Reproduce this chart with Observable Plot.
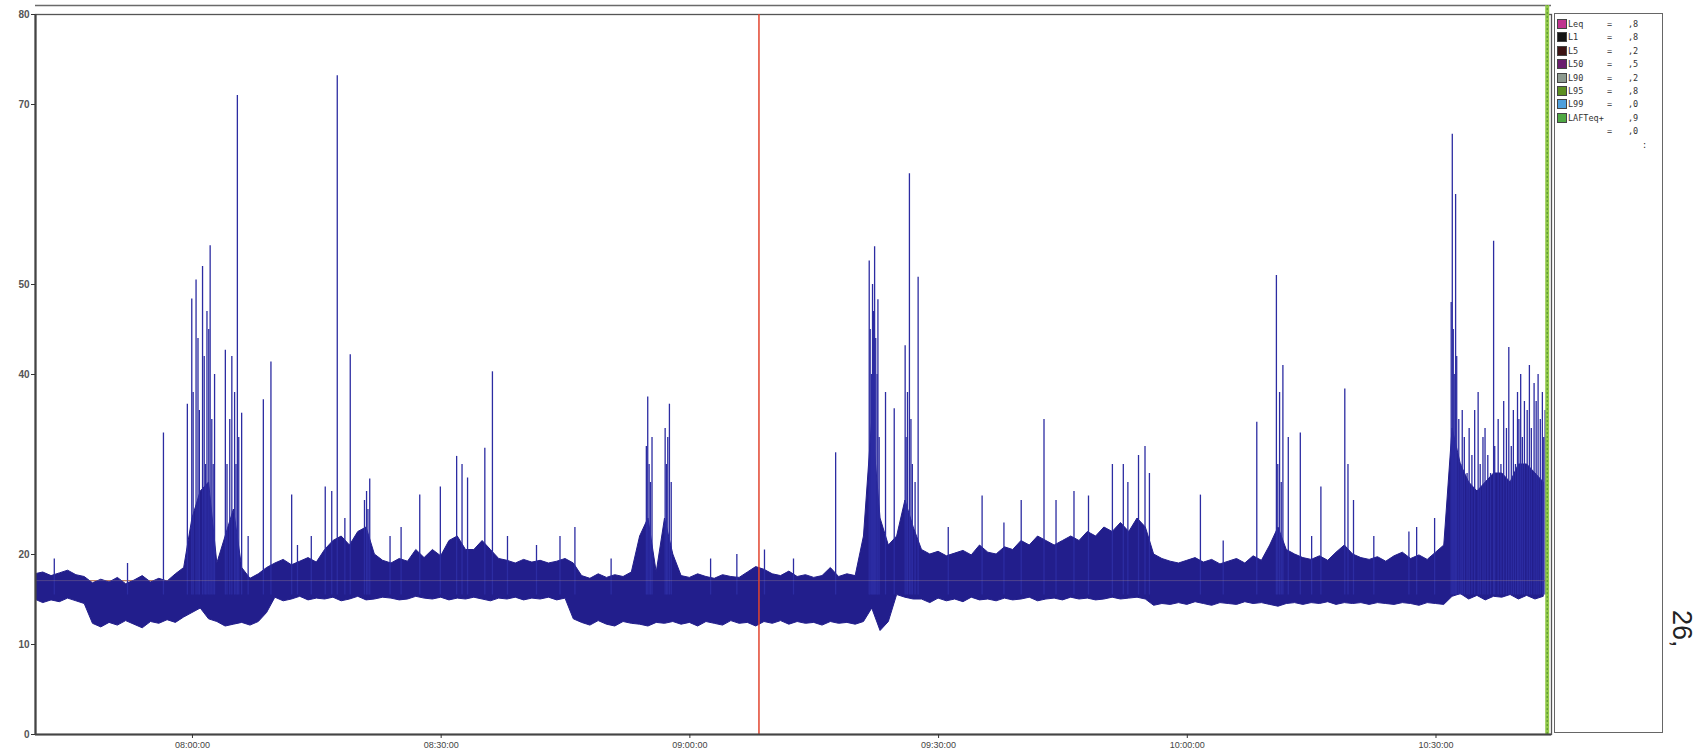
<!DOCTYPE html>
<html>
<head>
<meta charset="utf-8">
<script src="https://cdn.jsdelivr.net/npm/d3@7"></script>
<script src="https://cdn.jsdelivr.net/npm/@observablehq/plot@0.6"></script>
<style>
  html, body { margin: 0; padding: 0; background: #fff; }
  #wrap { position: relative; width: 1704px; height: 756px; overflow: hidden; }
  #legend { position: absolute; left: 1554px; top: 13px; width: 109px; height: 720px; border: 1px solid #666; box-sizing: border-box; font-family: "DejaVu Sans Mono", monospace; font-size: 8.5px; color: #333; }
  .row { position: absolute; left: 0; height: 12px; line-height: 12px; white-space: nowrap; }
  .sw { position: absolute; left: 2px; top: 1px; width: 8px; height: 8px; border: 1px solid #444; }
  .nm { position: absolute; left: 13px; }
  .eq { position: absolute; left: 52px; }
  .vl { position: absolute; left: 73px; }
  #side { position: absolute; left: 1666px; top: 610px; writing-mode: vertical-rl; font-family: "Liberation Sans", Arial, sans-serif; font-size: 27px; color: #222; }
</style>
</head>
<body>
<div id="wrap"></div>
<script>
// ---- data ----
const xDomain = ["07:41:04", "10:43:56"];
const xTicks = ["08:00:00", "08:30:00", "09:00:00", "09:30:00", "10:00:00", "10:30:00"];
const yTicks = [0, 10, 20, 40, 50, 70, 80];

// band of the continuous level, one sample per minute from 07:41
const bandStart = "07:41:00";
const bandHigh = [
  17.8, 18.0, 17.6, 17.9, 18.2, 17.7, 17.5,
  16.8, 17.2, 16.9, 17.4, 16.7, 17.1, 17.6, 16.9, 17.3, 17.0, 17.8, 18.5,
  24, 27, 28, 19, 22, 25, 18.5, 17.3, 17.8, 18.5,
  19.0, 19.4, 18.8, 19.2, 19.6, 19.1, 20.5, 21.5, 22, 21,
  22.5, 23, 20, 19.3, 19.0, 19.5, 19.2, 20.5, 19.6, 20.5,
  19.8, 21.5, 22, 20.5, 20.5, 21.5, 20.5, 19.5, 19.3, 19.0,
  19.4, 19.1, 19.3, 19.0, 19.2, 19.5,
  19,
  17.6, 17.3, 17.8, 17.4, 17.7, 17.5, 18.0, 22, 24, 18,
  24, 20, 17.6, 17.4, 17.8, 17.5, 17.3, 17.7, 17.5, 17.4,
  18.0, 18.6, 18.3, 17.8, 17.6, 18.1, 17.5, 17.7, 17.4, 17.6,
  18.5, 17.5, 17.8, 17.6, 22,
  35, 24, 21, 22, 26, 23,
  20.5, 20.0, 20.3, 19.8, 20.1, 20.4, 19.9, 21.0, 20.2, 20.0,
  20.8, 20.5, 21.5, 21, 22, 21.5, 21, 21.5, 22, 21.5,
  22.5, 22, 23, 22.5, 23.5, 22.5, 24, 23, 20, 19.5,
  19.2,
  19.0, 19.3, 19.6, 19.1, 19.4, 18.9, 19.2, 19.5, 19.0, 19.8,
  19.3, 21, 23, 20.5, 20, 19.6, 19.4, 19.8, 19.3, 20.2,
  21, 20, 19.6, 19.4, 19.7, 19.2, 19.8, 20.2, 19.5, 19.9,
  19.4, 20.2, 21,
  34, 30, 28, 27, 28, 29, 29, 28, 30, 30, 29, 28
];
const bandLow = [
  15.0, 14.6, 14.9, 14.7, 15.1, 14.8, 14.5,
  12.3, 11.9, 12.4, 12.1, 12.6, 12.2, 11.8, 12.5, 12.3, 12.7, 12.4, 13.0,
  13.5, 14.0, 12.8, 12.5, 12.0, 12.2, 12.4, 12.1, 12.5, 13.5,
  15.2, 14.8, 15.0, 15.3, 14.9, 15.1, 15.0, 15.2, 14.8, 15.0,
  15.3, 14.9, 15.0, 15.2, 15.1, 14.9, 15.0, 15.3, 15.1, 15.0,
  15.2, 14.9, 15.1, 15.0, 15.2, 15.0, 14.8, 15.1, 15.0, 15.2,
  14.9, 15.1, 15.0, 15.2, 14.9, 15.1,
  12.8,
  12.4, 12.1, 12.6, 12.2, 12.0, 12.5, 12.3, 12.2, 12.0, 12.4,
  12.3, 12.5, 12.2, 12.4, 12.0, 12.5, 12.3, 12.1, 12.6, 12.3,
  12.4, 12.0, 12.5, 12.3, 12.6, 12.2, 12.5, 12.3, 12.4, 12.1,
  12.5, 12.3, 12.4, 12.2, 12.5,
  14, 11.5, 12.5, 15.5, 15.2, 15.0,
  15.0, 14.6, 15.1, 14.8, 15.0, 14.7, 15.2, 14.9, 15.0, 14.8,
  15.1, 14.9, 15.0, 15.2, 14.8, 15.0, 15.1, 14.9, 15.2, 15.0,
  15.1, 14.9, 15.0, 15.2, 15.0, 15.1, 15.2, 15.0, 14.3, 14.5,
  14.4,
  14.6, 14.4, 14.7, 14.5, 14.3, 14.6, 14.5, 14.4, 14.7, 14.5,
  14.6, 14.4, 14.2, 14.5, 14.6, 14.4, 14.6, 14.5, 14.7, 14.4,
  14.6, 14.5, 14.6, 14.4, 14.6, 14.5, 14.4, 14.6, 14.5, 14.3,
  14.6, 14.5, 14.4,
  15.3, 15.6, 15.0, 15.4, 14.9, 15.3, 15.2, 15.5, 15.0, 15.4, 15.0, 15.3
];

// isolated peaks and bursts
const spikeTimes = [
  "07:43:20", "07:52:10", "07:56:30", "07:59:23", "07:59:55", "08:00:05", "08:00:26", "08:00:40", "08:00:50", "08:01:13",
  "08:01:25", "08:01:35", "08:01:45", "08:01:58", "08:02:08", "08:02:20", "08:02:30", "08:02:40", "08:03:58", "08:04:10",
  "08:04:30", "08:04:45", "08:05:05", "08:05:15", "08:05:25", "08:05:35", "08:05:56", "08:06:43", "08:08:33", "08:09:28",
  "08:11:58", "08:12:40", "08:14:20", "08:16:01", "08:16:48", "08:17:28", "08:18:23", "08:19:02", "08:20:45", "08:21:00",
  "08:21:10", "08:21:23", "08:23:50", "08:25:10", "08:27:25", "08:29:54", "08:31:52", "08:32:31", "08:33:11", "08:35:16",
  "08:36:11", "08:38:00", "08:41:30", "08:44:20", "08:46:08", "08:50:30", "08:54:45", "08:54:55", "08:55:05", "08:55:15",
  "08:55:26", "08:57:01", "08:57:10", "08:57:20", "08:57:32", "08:57:45", "09:02:30", "09:05:40", "09:09:00", "09:12:30",
  "09:17:35", "09:21:38", "09:21:45", "09:21:55", "09:22:02", "09:22:10", "09:22:17", "09:22:25", "09:22:35", "09:22:41",
  "09:22:50", "09:23:36", "09:24:39", "09:25:58", "09:26:05", "09:26:15", "09:26:29", "09:26:40", "09:26:50", "09:27:10",
  "09:27:32", "09:31:10", "09:35:15", "09:37:53", "09:39:58", "09:42:43", "09:44:10", "09:46:20", "09:48:05", "09:50:58",
  "09:52:17", "09:52:50", "09:54:07", "09:54:54", "09:55:26", "10:01:35", "10:04:20", "10:08:23", "10:10:45", "10:10:55",
  "10:11:08", "10:11:20", "10:11:32", "10:12:11", "10:13:38", "10:15:00", "10:16:07", "10:19:00", "10:19:23", "10:20:03",
  "10:22:30", "10:26:44", "10:27:40", "10:29:50", "10:31:50", "10:31:58", "10:32:05", "10:32:12", "10:32:22", "10:32:30",
  "10:32:45", "10:33:00", "10:33:10", "10:33:25", "10:33:45", "10:34:00", "10:34:20", "10:34:40", "10:35:05", "10:35:20",
  "10:35:40", "10:35:55", "10:36:15", "10:36:35", "10:36:57", "10:37:05", "10:37:30", "10:37:50", "10:38:10", "10:38:30",
  "10:38:47", "10:39:05", "10:39:20", "10:39:35", "10:39:50", "10:40:00", "10:40:13", "10:40:25", "10:40:40", "10:41:00",
  "10:41:16", "10:41:30", "10:41:50", "10:42:05", "10:42:19", "10:42:35", "10:42:50", "10:43:00", "10:43:10", "10:43:20"
];
const spikeValues = [
  19.5, 19, 33.5, 36.7, 48.4, 38, 50.5, 44, 36, 52,
  42, 30, 47, 45, 54.3, 35, 30, 40, 42.7, 30,
  35, 42, 38, 30, 71, 33, 35.7, 22, 37.2, 41.4,
  26.6, 21, 22, 27.5, 27, 73.2, 24, 42.2, 26, 27,
  25, 28.4, 22, 23, 26.6, 27.5, 30.9, 30, 28.5, 31.8,
  40.3, 22, 21, 22, 23, 19.5, 32, 37.5, 30, 28,
  33, 34, 30, 33, 36.7, 28, 19.5, 20, 20.5, 19.5,
  31.3, 52.6, 45, 40, 50, 47, 54.2, 44, 40, 48.3,
  33, 38, 36.2, 43.2, 33, 38, 62.3, 35, 30, 28,
  50.8, 23, 26.5, 23.5, 26, 35, 26, 27, 26.5, 30,
  30, 28, 31, 32, 29, 26.6, 21.5, 34.7, 51, 30,
  38, 28, 41, 33, 33.5, 22, 27.5, 38.4, 30, 26,
  22, 22.5, 23, 24, 48, 66.7, 45, 40, 60, 42,
  35, 30, 36, 33, 29, 34, 31, 36, 38, 30,
  33, 34, 31, 29, 54.8, 32, 35, 30, 37, 34,
  43, 32, 36, 30, 38, 35, 40, 33, 37, 36,
  41, 34, 39, 37, 40, 35, 38, 33, 36, 31
];

const refLevel = [17.1];             // thin orange percentile line
const cursorTimes = ["09:08:20"];    // red cursor
const endTimes = ["10:43:25"];       // green end marker
const topBorder = [81];

const legendNames = ["Leq", "L1", "L5", "L50", "L90", "L95", "L99", "LAFTeq+", "", ""];
const legendColors = ["#c0338f", "#151515", "#3d1414", "#6b1d6e", "#8d9a8f", "#5d8f22", "#4f9fdc", "#4fa843", null, null];
const legendValues = [",8", ",8", ",2", ",5", ",2", ",8", ",0", ",9", ",0", ":"];
const sideText = "26,";

// ---- build ----
const T = s => { const [h, m, sec = 0] = s.split(":").map(Number); return new Date(2000, 0, 1, h, m, sec); };
const t0 = T(bandStart);
const band = bandHigh.map((h, i) => ({ t: new Date(+t0 + i * 60000), hi: h, lo: bandLow[i] }));
const spikes = spikeTimes.map((s, i) => ({ t: T(s), v: spikeValues[i] }));
const xd = xDomain.map(T);
const tEnd = T(endTimes[0]);

const chart = Plot.plot({
  width: 1704,
  height: 756,
  marginLeft: 35,
  marginRight: 153,
  marginTop: 14,
  marginBottom: 22,
  style: { fontFamily: "'Liberation Sans', Arial, sans-serif", background: "transparent", color: "#333" },
  x: { type: "time", domain: xd, label: null },
  y: { domain: [0, 80], label: null },
  marks: [
    Plot.ruleY(topBorder, { stroke: "#6a6a6a", strokeWidth: 1.3 }),
    Plot.frame({ stroke: "#555", strokeWidth: 1.3 }),
    Plot.ruleY(refLevel, { x1: xd[0], x2: tEnd, stroke: "#c47a55", strokeWidth: 1.2 }),
    Plot.areaY(band, { x: "t", y1: "lo", y2: "hi", fill: "#221e8c", stroke: "#221e8c", strokeWidth: 1, clip: true }),
    Plot.ruleX(spikes, { x: "t", y1: 15.5, y2: "v", stroke: "#2c2ca2", strokeWidth: 1.3 }),
    Plot.ruleY(refLevel, { x1: xd[0], x2: tEnd, stroke: "#b89a90", strokeWidth: 1, strokeOpacity: 0.3 }),
    Plot.ruleX(cursorTimes.map(T), { stroke: "#e2452e", strokeWidth: 1.5 }),
    Plot.ruleX(endTimes.map(T), { y1: 0, y2: 81, stroke: "#93c94a", strokeWidth: 4 }),
    Plot.ruleX(endTimes.map(T), { y1: 0, y2: 81, stroke: "#4e8f2a", strokeWidth: 1, strokeDasharray: "2,2" }),
    Plot.ruleX([xd[0]], { stroke: "#444", strokeWidth: 2.2 }),
    Plot.ruleY([0], { stroke: "#444", strokeWidth: 2.2 }),
    Plot.axisY({ ticks: yTicks, tickSize: 4, tickPadding: 2, fontSize: 10, fontWeight: "bold", fill: "#555", label: null }),
    Plot.axisX({ ticks: xTicks.map(T), tickFormat: d3.timeFormat("%H:%M:%S"), tickSize: 4, tickPadding: 3, fontSize: 9, fill: "#444", label: null })
  ]
});

const wrap = document.getElementById("wrap");
wrap.appendChild(chart);

const legend = document.createElement("div");
legend.id = "legend";
legendValues.forEach((v, i) => {
  const row = document.createElement("div");
  row.className = "row";
  row.style.top = (4 + i * 13.4) + "px";
  row.style.width = "100%";
  let html = "";
  if (legendColors[i]) html += `<span class="sw" style="background:${legendColors[i]}"></span>`;
  if (legendNames[i]) html += `<span class="nm">${legendNames[i]}</span>`;
  if (i < 9) html += `<span class="eq">${i === 7 ? "" : "="}</span><span class="vl">${v}</span>`;
  else html += `<span class="vl" style="left:87px">${v}</span>`;
  row.innerHTML = html;
  legend.appendChild(row);
});
wrap.appendChild(legend);

const side = document.createElement("div");
side.id = "side";
side.textContent = sideText;
wrap.appendChild(side);
</script>
</body>
</html>
